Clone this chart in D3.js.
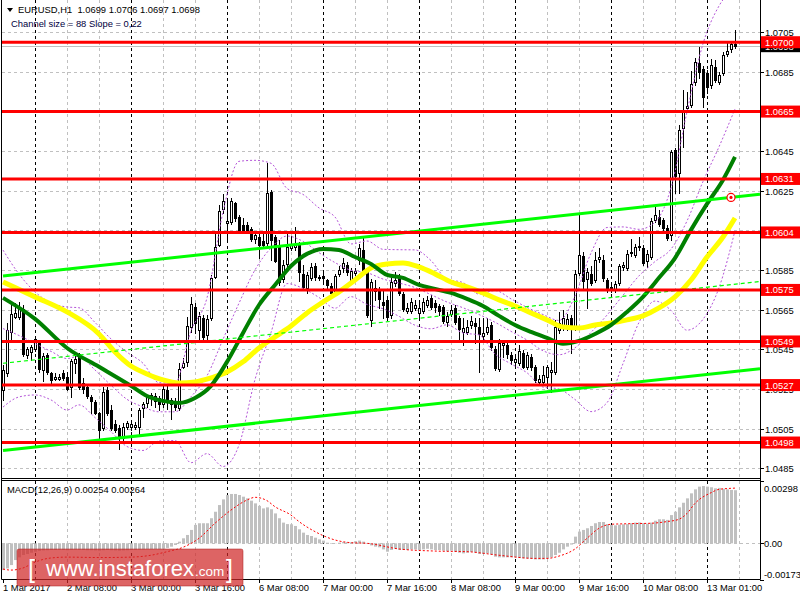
<!DOCTYPE html>
<html><head><meta charset="utf-8">
<script src="https://cdn.jsdelivr.net/npm/d3@7"></script>
<style>body{margin:0;background:#fff}svg{display:block}text{font-family:"Liberation Sans",Arial,sans-serif}</style>
</head><body><svg id="c" width="800" height="600"></svg>
<script>
// ---------- DATA ----------
const openP = [
1.05245,1.05331,1.05538,1.05614,1.05614,1.05654,1.05422,1.05437,1.05452,1.05488,
1.05346,1.05422,1.05331,1.05301,1.05301,1.05331,1.05311,1.05260,1.05382,1.05427,
1.05281,1.05260,1.05210,1.05185,1.05129,1.05054,1.05245,1.05144,1.05074,1.05054,
1.05003,1.05059,1.05059,1.05059,1.05059,1.05154,1.05180,1.05220,1.05190,1.05205,
1.05175,1.05245,1.05195,1.05185,1.05154,1.05361,1.05387,1.05563,1.05664,1.05548,
1.05609,1.05523,1.05609,1.05816,1.05977,1.06159,1.06088,1.06093,1.06189,1.06118,
1.06078,1.06078,1.06058,1.06007,1.06017,1.05997,1.05987,1.06244,1.06017,1.05967,
1.05806,1.05881,1.05962,1.05967,1.05982,1.05831,1.05760,1.05811,1.05871,1.05811,
1.05821,1.05800,1.05770,1.05730,1.05831,1.05861,1.05876,1.05795,1.05836,1.05901,
1.05952,1.05851,1.05599,1.05745,1.05755,1.05689,1.05700,1.05624,1.05785,1.05816,
1.05730,1.05644,1.05644,1.05659,1.05634,1.05644,1.05674,1.05710,1.05684,1.05669,
1.05664,1.05589,1.05629,1.05659,1.05609,1.05538,1.05538,1.05573,1.05584,1.05563,
1.05518,1.05538,1.05573,1.05452,1.05351,1.05472,1.05472,1.05422,1.05387,1.05382,
1.05432,1.05361,1.05412,1.05361,1.05286,1.05286,1.05311,1.05336,1.05336,1.05548,
1.05563,1.05563,1.05609,1.05563,1.05836,1.05921,1.05806,1.05831,1.05800,1.05906,
1.05901,1.05800,1.05765,1.05750,1.05785,1.05866,1.05861,1.05937,1.05926,1.05967,
1.05962,1.05896,1.05916,1.06103,1.06118,1.06103,1.06063,1.06027,1.06456,1.06340,
1.06567,1.06668,1.06683,1.06799,1.06895,1.06865,1.06845,1.06784,1.06875,1.06799,
1.06845,1.06941,1.06966,1.06990];
const highP = [
1.05372,1.05583,1.05684,1.05684,1.05689,1.05674,1.05462,1.05472,1.05513,1.05498,
1.05432,1.05432,1.05336,1.05331,1.05326,1.05346,1.05336,1.05402,1.05427,1.05432,
1.05306,1.05271,1.05220,1.05195,1.05134,1.05260,1.05260,1.05170,1.05094,1.05069,
1.05079,1.05089,1.05094,1.05084,1.05154,1.05185,1.05220,1.05230,1.05230,1.05215,
1.05265,1.05265,1.05205,1.05205,1.05382,1.05407,1.05614,1.05715,1.05684,1.05639,
1.05624,1.05624,1.05826,1.06038,1.06179,1.06234,1.06204,1.06214,1.06194,1.06128,
1.06113,1.06093,1.06068,1.06043,1.06038,1.06038,1.06391,1.06254,1.06027,1.06002,
1.05901,1.06048,1.06022,1.06068,1.05992,1.05876,1.05841,1.05886,1.05886,1.05826,
1.05836,1.05806,1.05785,1.05831,1.05871,1.05911,1.05891,1.05861,1.05861,1.05982,
1.06017,1.05861,1.05805,1.05800,1.05765,1.05750,1.05720,1.05811,1.05841,1.05831,
1.05740,1.05684,1.05710,1.05700,1.05694,1.05710,1.05720,1.05725,1.05700,1.05679,
1.05674,1.05639,1.05674,1.05674,1.05619,1.05609,1.05599,1.05619,1.05609,1.05609,
1.05609,1.05609,1.05589,1.05467,1.05503,1.05498,1.05483,1.05437,1.05422,1.05472,
1.05447,1.05437,1.05427,1.05372,1.05321,1.05366,1.05372,1.05387,1.05599,1.05639,
1.05649,1.05629,1.05624,1.05851,1.06138,1.05942,1.05861,1.05871,1.05942,1.05962,
1.05926,1.05811,1.05785,1.05795,1.05881,1.05891,1.05952,1.06007,1.05982,1.06017,
1.05977,1.05952,1.06113,1.06179,1.06153,1.06113,1.06078,1.06456,1.06466,1.06582,
1.06759,1.06749,1.06855,1.06920,1.06976,1.06880,1.06860,1.06915,1.06910,1.06850,
1.06951,1.06996,1.07001,1.07060];
const lowP = [
1.05195,1.05316,1.05488,1.05609,1.05604,1.05417,1.05407,1.05397,1.05442,1.05336,
1.05291,1.05326,1.05271,1.05296,1.05296,1.05296,1.05245,1.05210,1.05331,1.05250,
1.05230,1.05205,1.05129,1.05124,1.04993,1.05043,1.05119,1.05043,1.05033,1.04948,
1.04993,1.05049,1.05043,1.05049,1.05013,1.05109,1.05160,1.05170,1.05160,1.05144,
1.05160,1.05149,1.05099,1.05144,1.05144,1.05356,1.05366,1.05538,1.05533,1.05488,
1.05498,1.05488,1.05599,1.05811,1.05972,1.06138,1.06002,1.06083,1.06098,1.06043,
1.06043,1.06038,1.05997,1.05987,1.05911,1.05962,1.05977,1.05901,1.05891,1.05775,
1.05790,1.05871,1.05952,1.05952,1.05795,1.05750,1.05735,1.05800,1.05800,1.05800,
1.05795,1.05750,1.05725,1.05720,1.05821,1.05841,1.05826,1.05785,1.05826,1.05881,
1.05831,1.05614,1.05568,1.05700,1.05659,1.05609,1.05599,1.05609,1.05770,1.05725,
1.05644,1.05634,1.05634,1.05649,1.05609,1.05634,1.05664,1.05654,1.05639,1.05624,
1.05584,1.05568,1.05619,1.05579,1.05503,1.05472,1.05528,1.05558,1.05483,1.05336,
1.05498,1.05528,1.05447,1.05346,1.05341,1.05412,1.05407,1.05377,1.05372,1.05372,
1.05356,1.05351,1.05346,1.05286,1.05276,1.05276,1.05255,1.05235,1.05326,1.05533,
1.05548,1.05548,1.05432,1.05548,1.05826,1.05750,1.05659,1.05775,1.05790,1.05891,
1.05795,1.05740,1.05740,1.05740,1.05775,1.05851,1.05851,1.05921,1.05916,1.05952,
1.05876,1.05866,1.05906,1.06093,1.06073,1.06048,1.06002,1.06002,1.06239,1.06239,
1.06471,1.06648,1.06673,1.06784,1.06819,1.06673,1.06744,1.06769,1.06799,1.06789,
1.06835,1.06930,1.06951,1.06970];
const closeP = [
1.05346,1.05548,1.05629,1.05634,1.05664,1.05427,1.05452,1.05462,1.05503,1.05351,
1.05417,1.05336,1.05296,1.05311,1.05311,1.05306,1.05250,1.05392,1.05402,1.05260,
1.05250,1.05215,1.05190,1.05129,1.05043,1.05235,1.05129,1.05054,1.05043,1.05013,
1.05059,1.05079,1.05074,1.05069,1.05144,1.05175,1.05210,1.05205,1.05215,1.05175,
1.05250,1.05195,1.05175,1.05160,1.05351,1.05382,1.05568,1.05679,1.05584,1.05619,
1.05513,1.05604,1.05811,1.05967,1.06148,1.06199,1.06098,1.06199,1.06113,1.06053,
1.06053,1.06048,1.06007,1.06027,1.05977,1.05977,1.06239,1.06002,1.05896,1.05790,
1.05876,1.05967,1.05982,1.05982,1.05841,1.05765,1.05826,1.05866,1.05816,1.05816,
1.05811,1.05775,1.05735,1.05821,1.05851,1.05886,1.05841,1.05846,1.05846,1.05962,
1.05841,1.05624,1.05790,1.05760,1.05705,1.05674,1.05614,1.05790,1.05800,1.05735,
1.05654,1.05659,1.05689,1.05674,1.05659,1.05689,1.05700,1.05664,1.05664,1.05644,
1.05594,1.05619,1.05649,1.05589,1.05553,1.05558,1.05563,1.05594,1.05568,1.05528,
1.05533,1.05563,1.05462,1.05356,1.05483,1.05483,1.05427,1.05397,1.05402,1.05442,
1.05361,1.05422,1.05361,1.05296,1.05301,1.05322,1.05361,1.05346,1.05563,1.05584,
1.05609,1.05604,1.05558,1.05831,1.05926,1.05795,1.05841,1.05785,1.05901,1.05916,
1.05811,1.05750,1.05760,1.05780,1.05871,1.05876,1.05932,1.05942,1.05967,1.05972,
1.05886,1.05932,1.06098,1.06128,1.06083,1.06063,1.06012,1.06446,1.06325,1.06557,
1.06658,1.06678,1.06789,1.06900,1.06850,1.06724,1.06774,1.06885,1.06809,1.06835,
1.06936,1.06956,1.06991,1.06980];

const maGreenBars = [0,8,16,24,32,36,40,44,48,52,56,60,64,68,72,76,80,84,88,92,96,100,104,108,112,116,120,124,128,132,136,140,144,148,152,156,160,164,168,172,176,180,183];
const maGreenVals = [1.05710,1.05604,1.05457,1.05362,1.05266,1.05215,1.05190,1.05180,1.05205,1.05266,1.05387,1.05533,1.05674,1.05775,1.05871,1.05932,1.05957,1.05952,1.05916,1.05881,1.05826,1.05811,1.05775,1.05755,1.05735,1.05705,1.05669,1.05619,1.05573,1.05538,1.05508,1.05478,1.05493,1.05528,1.05573,1.05639,1.05715,1.05811,1.05911,1.06053,1.06184,1.06305,1.06421];

const maYellowBars = [0,8,16,24,28,32,36,40,44,48,52,56,60,64,68,72,76,80,84,88,92,96,100,104,108,112,116,120,124,128,132,136,140,144,148,152,156,160,164,168,172,176,180,183];
const maYellowVals = [1.05790,1.05715,1.05639,1.05528,1.05437,1.05366,1.05326,1.05296,1.05281,1.05286,1.05306,1.05336,1.05387,1.05457,1.05513,1.05568,1.05634,1.05689,1.05740,1.05800,1.05861,1.05881,1.05886,1.05866,1.05831,1.05790,1.05765,1.05735,1.05700,1.05669,1.05634,1.05599,1.05563,1.05558,1.05573,1.05583,1.05599,1.05619,1.05659,1.05715,1.05800,1.05916,1.06017,1.06113];

// Bollinger bands (upper / middle / lower), read at sample bars
const bbBars = [0,4,8,12,16,19,23,27,31,35,39,43,47,51,55,59,63,67,71,75,79,83,87,91,95,99,103,107,111,115,119,123,127,131,135,139,143,147,151,155,159,163,167,171,175,179,183];
const bbMiddle = [1.05555,1.05520,1.05480,1.05440,1.05404,1.05415,1.05346,1.05269,1.05198,1.05160,1.05135,1.05135,1.05211,1.05317,1.05501,1.05683,1.05851,1.05962,1.06022,1.05995,1.05938,1.05888,1.05849,1.05837,1.05805,1.05785,1.05762,1.05726,1.05689,1.05660,1.05626,1.05587,1.05541,1.05497,1.05443,1.05423,1.05458,1.05536,1.05623,1.05723,1.05821,1.05893,1.05956,1.06098,1.06297,1.06472,1.06663];
const bbUpper = [1.05951,1.05830,1.05740,1.05685,1.05664,1.05660,1.05586,1.05503,1.05436,1.05380,1.05282,1.05280,1.05544,1.05710,1.06143,1.06399,1.06404,1.06389,1.06262,1.06232,1.06164,1.06118,1.05982,1.05997,1.05955,1.05953,1.05952,1.05898,1.05804,1.05787,1.05729,1.05747,1.05705,1.05662,1.05626,1.05596,1.05719,1.05936,1.06065,1.06068,1.06056,1.06092,1.06265,1.06649,1.06992,1.07183,1.07277];
const bbLower = [1.05159,1.05210,1.05220,1.05195,1.05144,1.05170,1.05106,1.05035,1.04960,1.04940,1.04988,1.04990,1.04878,1.04924,1.04859,1.04967,1.05298,1.05535,1.05782,1.05758,1.05712,1.05658,1.05716,1.05677,1.05655,1.05617,1.05572,1.05554,1.05574,1.05533,1.05523,1.05427,1.05377,1.05332,1.05260,1.05250,1.05197,1.05136,1.05181,1.05378,1.05586,1.05694,1.05647,1.05547,1.05602,1.05761,1.06049];

const channelBars = [0, 183];
const channelMid = [1.05380, 1.05779];
const channelHalf = 0.0044;
const channelMarkBar = 182;

const levels = [1.0700, 1.0665, 1.0631, 1.0604, 1.0575, 1.0549, 1.0527, 1.0498];
const priceTicks = [1.0485,1.0505,1.0525,1.0545,1.0565,1.0585,1.0605,1.0625,1.0645,1.0665,1.0685,1.0705];
const lastPrice = 1.0698;

const timeLabels = ["1 Mar 2017","2 Mar 08:00","3 Mar 00:00","3 Mar 16:00","6 Mar 08:00","7 Mar 00:00","7 Mar 16:00","8 Mar 08:00","9 Mar 00:00","9 Mar 16:00","10 Mar 08:00","13 Mar 01:00"];
const timeLabelBars = [0,16,32,48,64,80,96,112,128,144,160,176];
const daySepBars = [8,32,56,80,104,128,152,176];

const macdHist = [
-0.00128,-0.00120,-0.00104,-0.00080,-0.00067,-0.00056,-0.00051,-0.00045,-0.00040,-0.00036,
-0.00034,-0.00033,-0.00032,-0.00032,-0.00031,-0.00032,-0.00033,-0.00031,-0.00030,-0.00031,
-0.00032,-0.00033,-0.00033,-0.00034,-0.00035,-0.00033,-0.00032,-0.00033,-0.00034,-0.00035,
-0.00034,-0.00033,-0.00032,-0.00031,-0.00030,-0.00029,-0.00028,-0.00028,-0.00027,-0.00028,
-0.00026,-0.00022,-0.00016,-0.00008,0.00008,0.00024,0.00040,0.00064,0.00088,0.00096,
0.00096,0.00096,0.00120,0.00151,0.00183,0.00210,0.00231,0.00236,0.00236,0.00231,
0.00223,0.00215,0.00204,0.00191,0.00179,0.00167,0.00172,0.00163,0.00143,0.00120,
0.00099,0.00092,0.00091,0.00083,0.00067,0.00051,0.00040,0.00035,0.00027,0.00019,
0.00013,0.00003,-0.00003,0.00001,0.00003,0.00006,0.00006,0.00005,0.00010,0.00013,
0.00008,-0.00003,-0.00010,-0.00016,-0.00019,-0.00029,-0.00040,-0.00032,-0.00026,-0.00032,
-0.00032,-0.00032,-0.00029,-0.00029,-0.00032,-0.00029,-0.00026,-0.00029,-0.00032,-0.00032,
-0.00035,-0.00038,-0.00035,-0.00041,-0.00045,-0.00048,-0.00045,-0.00041,-0.00045,-0.00051,
-0.00051,-0.00048,-0.00054,-0.00064,-0.00067,-0.00067,-0.00067,-0.00067,-0.00067,-0.00070,
-0.00072,-0.00073,-0.00075,-0.00077,-0.00077,-0.00077,-0.00073,-0.00067,-0.00056,-0.00045,
-0.00029,-0.00016,-0.00006,0.00032,0.00056,0.00064,0.00072,0.00083,0.00096,0.00102,
0.00102,0.00092,0.00088,0.00086,0.00089,0.00091,0.00092,0.00096,0.00099,0.00100,
0.00096,0.00094,0.00099,0.00108,0.00115,0.00115,0.00112,0.00135,0.00151,0.00172,
0.00194,0.00215,0.00239,0.00258,0.00271,0.00274,0.00271,0.00268,0.00263,0.00265,
0.00261,0.00258,0.00255,0.00254];
const signalBars = [0,2,5,8,12,16,24,32,37,41,45,49,53,57,61,63,66,68,72,74,78,83,87,91,99,108,116,124,133,136,139,143,146,149,152,157,162,166,169,171,173,177,179,182,183];
const signalVals = [-0.00123,-0.00128,-0.00118,-0.00090,-0.00070,-0.00066,-0.00068,-0.00066,-0.00057,-0.00040,-0.00019,0.00024,0.00096,0.00159,0.00207,0.00220,0.00204,0.00175,0.00135,0.00104,0.00056,0.00016,0.00003,0.00000,-0.00027,-0.00037,-0.00040,-0.00057,-0.00072,-0.00072,-0.00061,-0.00027,0.00024,0.00072,0.00091,0.00094,0.00096,0.00104,0.00115,0.00143,0.00191,0.00242,0.00258,0.00263,0.00264];
const macdTicks = [0.00298, 0, -0.00173];

// ---------- CHART ----------
const svg = d3.select("#c");
const FS = 9.4;
const L = 2, R = 760, MT = 0, MB = 478, ST = 481, SB = 579;
const x = d3.scaleLinear().domain([0, 189.25]).range([3, 760]);
const y = d3.scaleLinear().domain([1.04801, 1.07213]).range([478, 0]);
const ym = d3.scaleLinear().domain([-0.00173, 0.00298]).range([579.5, 481]);
const px = i => Math.round(x(i));

const defs = svg.append("defs");
defs.append("clipPath").attr("id","cm").append("rect").attr("x",L).attr("y",MT).attr("width",R-L).attr("height",MB-MT);
defs.append("clipPath").attr("id","cs").append("rect").attr("x",L).attr("y",ST).attr("width",R-L).attr("height",SB-ST);

const gMain = svg.append("g").attr("clip-path","url(#cm)");
const gSub = svg.append("g").attr("clip-path","url(#cs)");

// horizontal grid
gMain.selectAll(".hg").data(priceTicks).enter().append("line")
  .attr("x1",L).attr("x2",R).attr("y1",d=>Math.round(y(d))+0.5).attr("y2",d=>Math.round(y(d))+0.5)
  .attr("stroke","#c0c0c0").attr("stroke-dasharray","3,3");
// vertical grid and day separators
const vBars = d3.range(8, 189, 8);
[[gMain,MT,MB],[gSub,ST,SB]].forEach(([g,t,b])=>{
  g.selectAll(".vg").data(vBars).enter().append("line")
   .attr("x1",d=>px(d)+0.5).attr("x2",d=>px(d)+0.5).attr("y1",t).attr("y2",b)
   .attr("stroke",d=>daySepBars.includes(d)?"#000":"#c0c0c0").attr("stroke-dasharray","3,3");
});
// current price line
gMain.append("line").attr("x1",L).attr("x2",R).attr("y1",Math.round(y(lastPrice))+0.5).attr("y2",Math.round(y(lastPrice))+0.5).attr("stroke","#c0c0c0");

// candles
const idx = d3.range(openP.length);
gMain.selectAll(".wick").data(idx).enter().append("line")
  .attr("x1",i=>px(i)+0.5).attr("x2",i=>px(i)+0.5)
  .attr("y1",i=>Math.round(y(highP[i]))).attr("y2",i=>Math.round(y(lowP[i]))+1)
  .attr("stroke","#000");
gMain.selectAll(".body").data(idx).enter().append("rect")
  .attr("x",i=>px(i)-0.5).attr("width",2)
  .attr("y",i=>Math.round(y(Math.max(openP[i],closeP[i])))+0.5)
  .attr("height",i=>Math.max(0.01,Math.round(y(Math.min(openP[i],closeP[i])))-Math.round(y(Math.max(openP[i],closeP[i])))))
  .attr("fill",i=>closeP[i]>=openP[i]?"#fff":"#000").attr("stroke","#000");

// Bollinger bands
const lineP = d3.line().x(d=>x(d[0])).y(d=>y(d[1])).curve(d3.curveMonotoneX);
[bbUpper, bbMiddle, bbLower].forEach(v=>{
  gMain.append("path").attr("d",lineP(bbBars.map((b,k)=>[b,v[k]])))
   .attr("fill","none").attr("stroke","#b455d8").attr("stroke-width",1).attr("stroke-dasharray","2,2");
});
// moving averages
gMain.append("path").attr("d",lineP(maYellowBars.map((b,k)=>[b,maYellowVals[k]])))
  .attr("fill","none").attr("stroke","#ffff00").attr("stroke-width",5);
gMain.append("path").attr("d",lineP(maGreenBars.map((b,k)=>[b,maGreenVals[k]])))
  .attr("fill","none").attr("stroke","#008000").attr("stroke-width",4);

// regression channel
const chVal = (i,off)=>channelMid[0]+(channelMid[1]-channelMid[0])*(i-channelBars[0])/(channelBars[1]-channelBars[0])+off;
const chEnds = [0, 189.25];
[[channelHalf,false],[-channelHalf,false],[0,true]].forEach(([off,dash])=>{
  gMain.append("line").attr("x1",x(chEnds[0])).attr("x2",x(chEnds[1]))
   .attr("y1",y(chVal(chEnds[0],off))).attr("y2",y(chVal(chEnds[1],off)))
   .attr("stroke","#00ff00").attr("stroke-width",dash?1.2:3).attr("stroke-dasharray",dash?"4,3":null);
});
const mx = x(channelMarkBar), my = y(chVal(channelMarkBar, channelHalf));
gMain.append("circle").attr("cx",mx).attr("cy",my).attr("r",4).attr("fill","#fff").attr("stroke","#ff0000").attr("stroke-width",1.2);
gMain.append("circle").attr("cx",mx).attr("cy",my).attr("r",1.6).attr("fill","#ff0000");

// red levels
gMain.selectAll(".lvl").data(levels).enter().append("line")
  .attr("x1",L).attr("x2",R).attr("y1",d=>y(d)).attr("y2",d=>y(d))
  .attr("stroke","#ff0000").attr("stroke-width",3);

// MACD
gSub.append("line").attr("x1",L).attr("x2",R).attr("y1",Math.round(ym(0))+0.5).attr("y2",Math.round(ym(0))+0.5)
  .attr("stroke","#c0c0c0").attr("stroke-dasharray","3,3");
gSub.selectAll(".hb").data(idx).enter().append("rect")
  .attr("x",i=>px(i)-1).attr("width",3)
  .attr("y",i=>Math.min(ym(0),ym(macdHist[i]))).attr("height",i=>Math.abs(ym(macdHist[i])-ym(0)))
  .attr("fill","#c0c0c0");
gSub.append("path").attr("d",d3.line().x(d=>x(d[0])).y(d=>ym(d[1])).curve(d3.curveMonotoneX)(signalBars.map((b,k)=>[b,signalVals[k]])))
  .attr("fill","none").attr("stroke","#ff0000").attr("stroke-width",1).attr("stroke-dasharray","2,2");

// frames
const fr = svg.append("g").attr("stroke","#000").attr("fill","none");
fr.append("line").attr("x1",1.5).attr("x2",1.5).attr("y1",0).attr("y2",SB+0.5);
fr.append("line").attr("x1",R+0.5).attr("x2",R+0.5).attr("y1",0).attr("y2",SB+0.5);
fr.append("line").attr("x1",1.5).attr("x2",R+0.5).attr("y1",MB+0.5).attr("y2",MB+0.5);
fr.append("line").attr("x1",1.5).attr("x2",R+0.5).attr("y1",ST-0.5).attr("y2",ST-0.5);
fr.append("line").attr("x1",1.5).attr("x2",R+0.5).attr("y1",SB+0.5).attr("y2",SB+0.5);

// price axis (tick labels hidden where a level label sits exactly on top)
const ax = svg.append("g").attr("font-size",FS);
priceTicks.forEach(t=>{
  const yy = Math.round(y(t))+0.5;
  ax.append("line").attr("x1",R).attr("x2",R+4).attr("y1",yy).attr("y2",yy).attr("stroke","#000");
  const covered = levels.some(l=>Math.abs(y(l)-y(t))<3);
  if (!covered) ax.append("text").attr("x",765).attr("y",yy+3.5).attr("fill","#000").text(t.toFixed(4));
});
const lab = (v,bg)=>{
  const yy = y(v);
  ax.append("rect").attr("x",761).attr("y",yy-6).attr("width",39).attr("height",12).attr("fill",bg);
  ax.append("text").attr("x",765).attr("y",yy+3.5).attr("fill","#fff").text(v.toFixed(4));
};
lab(lastPrice,"#000");
levels.forEach(v=>lab(v,"#ff0000"));

// MACD axis
macdTicks.forEach(t=>{
  const yy = ym(t);
  ax.append("line").attr("x1",R).attr("x2",R+4).attr("y1",Math.round(yy)+0.5).attr("y2",Math.round(yy)+0.5).attr("stroke","#000");
  const ly = Math.max(488, Math.min(574, yy));
  ax.append("text").attr("x",764).attr("y",ly+3.5).attr("fill","#000").text(t===0?"0.00":t.toFixed(5));
});

// time axis
timeLabels.forEach((s,k)=>{
  const xx = px(timeLabelBars[k])+0.5;
  ax.append("line").attr("x1",xx).attr("x2",xx).attr("y1",SB).attr("y2",SB+4).attr("stroke","#000");
  ax.append("text").attr("x",px(timeLabelBars[k])).attr("y",591).attr("fill","#000").text(s);
});

// titles
svg.append("path").attr("d","M7,8 L13,8 L10,12 Z").attr("fill","#000");
svg.append("text").attr("x",18).attr("y",13).attr("font-size",FS).attr("fill","#000").attr("xml:space","preserve")
  .text("EURUSD,H1  1.0699 1.0706 1.0697 1.0698");
svg.append("text").attr("x",11).attr("y",27).attr("font-size",FS).attr("fill","#000040").text("Channel size = 88 Slope = 0,22");
svg.append("text").attr("x",7).attr("y",493).attr("font-size",FS).attr("fill","#000").text("MACD(12,26,9) 0.00254 0.00264");

// watermark
const wm = svg.append("g");
wm.append("rect").attr("x",17).attr("y",549).attr("width",226).attr("height",37).attr("rx",2)
  .attr("fill","rgba(208,40,40,0.72)").attr("stroke","rgba(170,30,30,0.5)");
wm.append("text").attr("x",28).attr("y",578).attr("font-size",25).attr("fill","#fff").attr("font-weight",300).text("[");
wm.append("text").attr("x",46).attr("y",576).attr("font-size",22).attr("fill","#fff").text("www.instaforex");
wm.append("text").attr("x",195).attr("y",576).attr("font-size",13.5).attr("fill","#fff").text(".com");
wm.append("text").attr("x",226).attr("y",578).attr("font-size",25).attr("fill","#fff").attr("font-weight",300).text("]");
</script></body></html>
